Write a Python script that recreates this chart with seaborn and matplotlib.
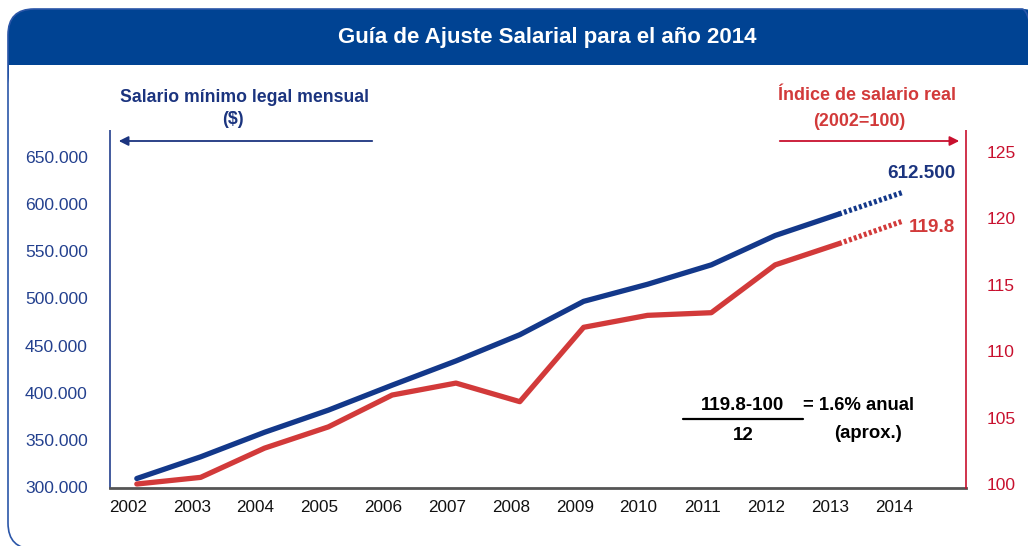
import numpy as np
import pandas as pd
import matplotlib
matplotlib.use("Agg")
import matplotlib.pyplot as plt
import matplotlib.transforms as mtransforms
from matplotlib.patches import FancyBboxPatch, Rectangle
import seaborn as sns

# Datos
anios = [2002, 2003, 2004, 2005, 2006, 2007, 2008, 2009, 2010, 2011, 2012, 2013]
salario_minimo = [309000, 332000, 358000, 381500, 408000, 433700, 461500, 496900, 515000, 535600, 566700, 589500]
indice_real = [100.0, 100.5, 102.7, 104.3, 106.7, 107.6, 106.2, 111.8, 112.7, 112.9, 116.5, 118.1]
anios_proy = [2013, 2014]
salario_proy = [589500, 612500]
indice_proy = [118.1, 119.8]

ticks_salario = [300000, 350000, 400000, 450000, 500000, 550000, 600000, 650000]
etiquetas_salario = ["300.000", "350.000", "400.000", "450.000", "500.000", "550.000", "600.000", "650.000"]
ticks_indice = [100, 105, 110, 115, 120, 125]

df = pd.DataFrame({"anio": anios, "salario": salario_minimo, "indice": indice_real})
df_proy = pd.DataFrame({"anio": anios_proy, "salario": salario_proy, "indice": indice_proy})

# Colores
azul = "#13388a"
azul_txt = "#23408e"
rojo = "#d23a3a"
rojo_eje = "#c8102e"
banner = "#004393"

sns.set_style("white")
fuente = ["Liberation Sans Narrow", "Liberation Sans", "DejaVu Sans"]
plt.rcParams["font.family"] = fuente

W, H = 1028, 546
fig = plt.figure(figsize=(W / 100, H / 100), dpi=100)
ident = mtransforms.IdentityTransform()

# Marco y cabecera
fig.patches.append(FancyBboxPatch((8, H - 100), 1040, 91, boxstyle="round,pad=0,rounding_size=26",
                                  facecolor=banner, edgecolor="none", transform=ident, zorder=0))
fig.patches.append(Rectangle((9, H - 130), 1040, 65, facecolor="white", edgecolor="none",
                             transform=ident, zorder=1))
fig.patches.append(FancyBboxPatch((8, -3), 1040, H - 9 + 3, boxstyle="round,pad=0,rounding_size=26",
                                  facecolor="none", edgecolor="#2b56a8", lw=1.2, transform=ident, zorder=2))
fig.text(547 / W, 1 - 38 / H, "Guía de Ajuste Salarial para el año 2014", color="white",
         fontsize=16, fontweight="bold", ha="center", va="center")

ax = fig.add_axes([110 / W, 1 - 488 / H, (966 - 110) / W, 400 / H])
ax.patch.set_alpha(0)
ax2 = ax.twinx()

# Salario minimo (eje izquierdo)
sns.lineplot(data=df, x="anio", y="salario", ax=ax, color=azul, lw=3.8, solid_capstyle="round")
sns.lineplot(data=df_proy, x="anio", y="salario", ax=ax, color=azul, lw=3.8,
             linestyle=(0, (0.55, 0.45)), dash_capstyle="butt")

# Indice de salario real (eje derecho)
sns.lineplot(data=df, x="anio", y="indice", ax=ax2, color=rojo, lw=3.8, solid_capstyle="round")
sns.lineplot(data=df_proy, x="anio", y="indice", ax=ax2, color=rojo, lw=3.8,
             linestyle=(0, (0.55, 0.45)), dash_capstyle="butt")

ax.set_xlim(2001.58, 2014.99)
ax.set_ylim(298940, 723180)
ax2.set_ylim(99.70, 129.82)

ax.set_xticks(anios + [2014])
ax.set_xticklabels([str(a) for a in anios + [2014]])
ax.set_yticks(ticks_salario)
ax.set_yticklabels(etiquetas_salario)
ax2.set_yticks(ticks_indice)
ax.set_xlabel("")
ax.set_ylabel("")
ax2.set_ylabel("")

ax.tick_params(axis="y", length=0, pad=16, labelsize=12.6, labelcolor=azul_txt)
ax.tick_params(axis="x", length=0, pad=9, labelsize=12.3, labelcolor="#111111")
ax2.tick_params(axis="y", length=0, pad=15, labelsize=12.6, labelcolor=rojo_eje)

desplaza = mtransforms.ScaledTranslation(-0.09, 0, fig.dpi_scale_trans)
for lab in ax.get_xticklabels():
    lab.set_transform(lab.get_transform() + desplaza)

for s in ["top", "right"]:
    ax.spines[s].set_visible(False)
ax.spines["left"].set_color(azul_txt)
ax.spines["left"].set_linewidth(1.2)
ax.spines["bottom"].set_color("#555555")
ax.spines["bottom"].set_linewidth(2)
for s in ["top", "left", "bottom"]:
    ax2.spines[s].set_visible(False)
ax2.spines["right"].set_color(rojo_eje)
ax2.spines["right"].set_linewidth(1.2)
ax.grid(False)
ax2.grid(False)

# Titulos de los ejes y flechas
fig.text(245 / W, 1 - 97 / H, "Salario mínimo legal mensual", color="#1b347f", fontsize=12.7,
         fontweight="bold", ha="center", va="center")
fig.text(233 / W, 1 - 120 / H, "($)", color="#1b347f", fontsize=12.7, fontweight="bold",
         ha="center", va="center")
fig.text(867 / W, 1 - 96 / H, "Índice de salario real", color=rojo, fontsize=12.9,
         fontweight="bold", ha="center", va="center")
fig.text(859 / W, 1 - 121 / H, "(2002=100)", color=rojo, fontsize=12.9, fontweight="bold",
         ha="center", va="center")
ax.annotate("", xy=(116, H - 141), xytext=(375, H - 141), xycoords="figure pixels",
            arrowprops=dict(arrowstyle="-|>", color="#1b347f", lw=1.3, mutation_scale=14))
ax.annotate("", xy=(962, H - 141), xytext=(777, H - 141), xycoords="figure pixels",
            arrowprops=dict(arrowstyle="-|>", color=rojo_eje, lw=1.3, mutation_scale=14))

# Valores finales
fig.text(955 / W, 1 - 174 / H, "612.500", color="#1b347f", fontsize=13.6, fontweight="bold",
         ha="right", va="center")
fig.text(955 / W, 1 - 227 / H, "119.8", color=rojo, fontsize=13.6, fontweight="bold",
         ha="right", va="center")

# Formula
fig.text(742 / W, 1 - 405 / H, "119.8-100", color="black", fontsize=13.5, fontweight="bold",
         ha="center", va="center")
fig.add_artist(plt.Line2D([683 / W, 803 / W], [1 - 419 / H, 1 - 419 / H], color="black", lw=1.6))
fig.text(743 / W, 1 - 436 / H, "12", color="black", fontsize=13.5, fontweight="bold",
         ha="center", va="center")
fig.text(803 / W, 1 - 405 / H, "= 1.6% anual", color="black", fontsize=13.3, fontweight="bold",
         ha="left", va="center")
fig.text(868 / W, 1 - 433 / H, "(aprox.)", color="black", fontsize=13.3, fontweight="bold",
         ha="center", va="center")

fig.savefig("out.png", dpi=100)
